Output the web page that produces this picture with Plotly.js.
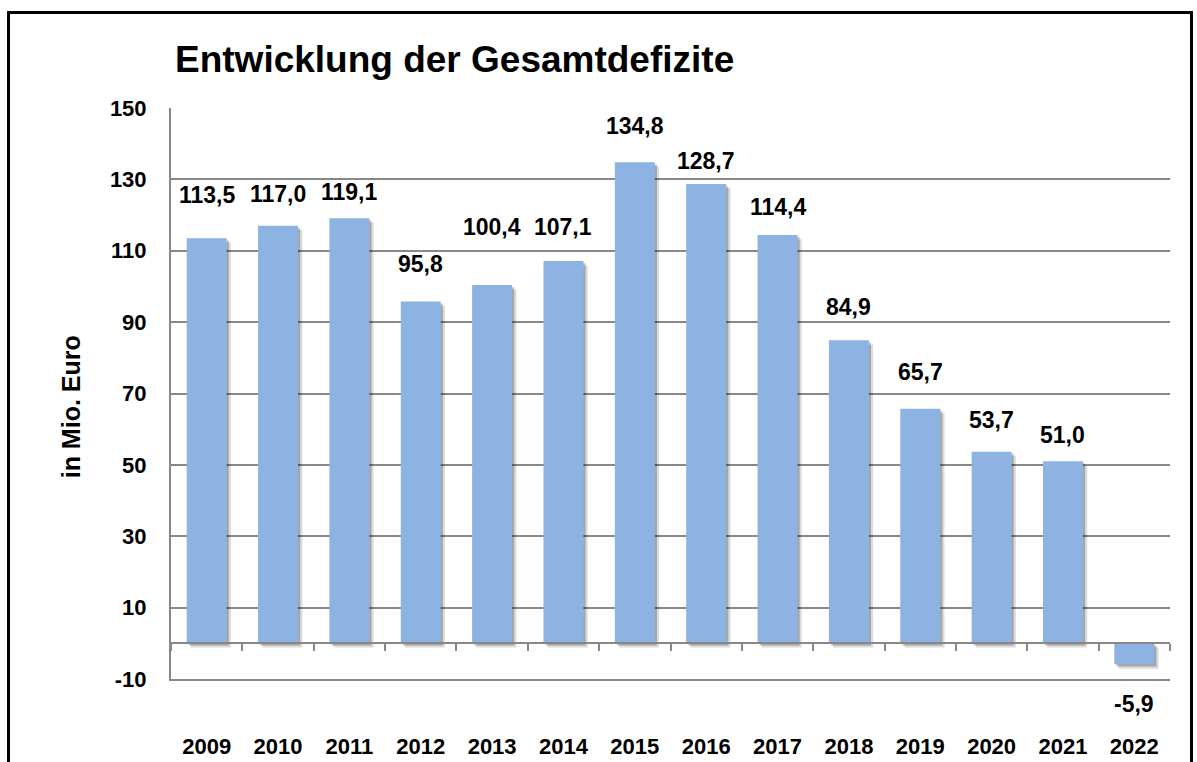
<!DOCTYPE html>
<html>
<head>
<meta charset="utf-8">
<script src="https://cdn.plot.ly/plotly-3.0.1.min.js"></script>
<style>
  html, body { margin: 0; padding: 0; background: #fff; }
  #wrap { position: relative; width: 1197px; height: 762px; overflow: hidden; }
  #chart { width: 1197px; height: 762px; }
  #frame { position: absolute; left: 7px; top: 11px; width: 1180px; height: 820px;
           border: 3px solid #000; pointer-events: none; }
</style>
</head>
<body>
<div id="wrap"><div id="chart"></div><div id="frame"></div></div>
<script>
// ---- data ----
const years = ['2009','2010','2011','2012','2013','2014','2015','2016','2017','2018','2019','2020','2021','2022'];
const deficits = [113.5, 117.0, 119.1, 95.8, 100.4, 107.1, 134.8, 128.7, 114.4, 84.9, 65.7, 53.7, 51.0, -5.9];
const yTicks = [150, 130, 110, 90, 70, 50, 30, 10, -10];

// ---- style ----
const labelShift = [43, 32, 26, 37, 58, 34, 36, 23, 28, 33, 37, 32, 26, -40];
const FONT = 'Arial, "Liberation Sans", sans-serif';
const GRID = '#888888';
const BAR = '#8db3e2';
const fmt = v => v.toFixed(1).replace('.', ',');

const shadow1 = {
  type: 'bar', x: years, y: deficits, base: -1.2, xaxis: 'x', yaxis: 'y',
  width: 0.56, offset: -0.28 + 0.06,
  marker: { color: 'rgba(0,0,0,0.14)', line: { width: 0 } },
  hoverinfo: 'skip', showlegend: false
};
const shadow2 = {
  type: 'bar', x: years, y: deficits, base: -0.6, xaxis: 'x', yaxis: 'y',
  width: 0.56, offset: -0.28 + 0.03,
  marker: { color: 'rgba(0,0,0,0.24)', line: { width: 0 } },
  hoverinfo: 'skip', showlegend: false
};
const bars = {
  type: 'bar', x: years, y: deficits, xaxis: 'x2', yaxis: 'y',
  width: 0.56, offset: -0.28,
  marker: { color: BAR, line: { width: 0 } },
  showlegend: false
};

const annotations = deficits.map((v, i) => ({
  x: i, y: v, xref: 'x', yref: 'y',
  text: '<b>' + fmt(v) + '</b>', showarrow: false, yanchor: 'middle', yshift: labelShift[i],
  font: { family: FONT, size: 23, color: '#000' }
}));
annotations.push({
  xref: 'paper', yref: 'paper', x: -0.1, y: 0.476,
  text: '<b>in Mio. Euro</b>', textangle: -90, showarrow: false,
  xanchor: 'center', yanchor: 'middle',
  font: { family: FONT, size: 25, color: '#000' }
});

const layout = {
  width: 1197, height: 762,
  margin: { l: 171, r: 27, t: 108, b: 83 },
  paper_bgcolor: '#fff', plot_bgcolor: '#fff',
  barmode: 'overlay',
  title: {
    text: 'Entwicklung der Gesamtdefizite',
    xref: 'container', yref: 'container',
    x: 175 / 1197, xanchor: 'left', y: 1 - 59 / 762, yanchor: 'middle',
    font: { family: FONT, size: 37, color: '#000', weight: 'bold' }
  },
  xaxis: {
    type: 'category', categoryarray: years, range: [-0.5, 13.5],
    showline: true, linecolor: GRID, linewidth: 2,
    showgrid: false, zeroline: false, ticks: '',
    ticklabelstandoff: 47,
    tickfont: { family: FONT, size: 22, color: '#000', weight: 'bold' }
  },
  xaxis2: {
    type: 'category', categoryarray: years, range: [-0.5, 13.5],
    overlaying: 'x', anchor: 'free', position: 10 / 160,
    showline: true, linecolor: GRID, linewidth: 2,
    ticks: 'outside', tickson: 'boundaries', ticklen: 7, tickwidth: 2, tickcolor: GRID,
    showticklabels: false, showgrid: false, zeroline: false
  },
  yaxis: {
    range: [-10, 150], tickvals: yTicks, ticktext: yTicks.map(String),
    showline: true, linecolor: GRID, linewidth: 2,
    showgrid: true, gridcolor: GRID, gridwidth: 2, zeroline: false,
    ticks: '', ticklabelstandoff: 18,
    tickfont: { family: FONT, size: 22, color: '#000', weight: 'bold' }
  },
  annotations: annotations
};

Plotly.newPlot('chart', [shadow1, shadow2, bars], layout, { displayModeBar: false, staticPlot: true });
</script>
</body>
</html>
